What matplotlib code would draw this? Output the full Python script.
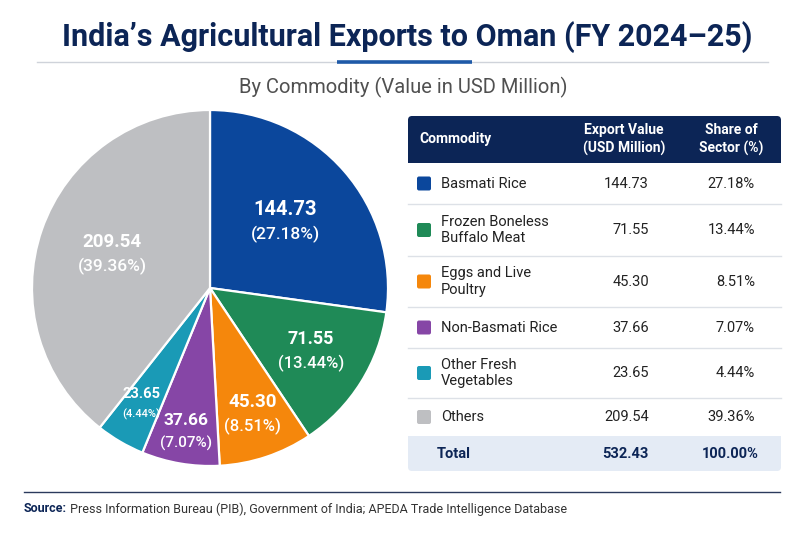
"""India's agricultural exports to Oman, FY 2024-25: pie + summary table."""

import matplotlib
matplotlib.use("Agg")
import matplotlib.pyplot as plt
import numpy as np
from matplotlib.patches import FancyBboxPatch, Rectangle

# --- data -------------------------------------------------------------------
commodities = ["Basmati Rice", "Frozen Boneless\nBuffalo Meat", "Eggs and Live\nPoultry",
               "Non-Basmati Rice", "Other Fresh\nVegetables", "Others"]
values = [144.73, 71.55, 45.30, 37.66, 23.65, 209.54]
shares = [27.18, 13.44, 8.51, 7.07, 4.44, 39.36]
total_value = 532.43
total_share = 100.00
colors = ["#0b479c", "#1f8a57", "#f5870c", "#8646a6", "#1a9ab6", "#bebfc2"]

# label placement per wedge (fraction of radius) and font sizes
label_r = [0.56, 0.67, 0.75, 0.82, 0.76, 0.58]
val_fs = [14.5, 13, 13.5, 12.5, 10.5, 13.5]
pct_fs = [12.5, 12, 12, 11, 8, 12.5]

NAVY = "#0c2556"
TXT = "#222222"
W, H = 800, 533

plt.rcParams["font.family"] = ["Roboto", "DejaVu Sans"]

fig = plt.figure(figsize=(W / 100, H / 100), dpi=100)
fig.patch.set_facecolor("white")

# overlay axes in pixel coordinates (y downwards)
ov = fig.add_axes([0, 0, 1, 1])
ov.set_xlim(0, W); ov.set_ylim(H, 0); ov.axis("off")

# --- header ------------------------------------------------------------------
ov.text(407, 37, "India\u2019s Agricultural Exports to Oman (FY 2024\u201325)",
        ha="center", va="center", fontsize=22, fontweight="bold", color=NAVY)
ov.plot([37, 768], [62, 62], color="#cfd3da", lw=1.0)
ov.plot([337, 472], [61.5, 61.5], color="#1f5aa8", lw=2.6, solid_capstyle="butt")
ov.text(403, 87, "By Commodity (Value in USD Million)", ha="center", va="center",
        fontsize=14.5, color="#505050")

# --- pie -----------------------------------------------------------------------
cx, cy, R = 210, 288, 178
pax = fig.add_axes([(cx - R) / W, (H - cy - R) / H, 2 * R / W, 2 * R / H])
wedges, _ = pax.pie(values, colors=colors, startangle=90, counterclock=False,
                    radius=1, wedgeprops=dict(edgecolor="white", linewidth=1.6))
pax.set_xlim(-1, 1); pax.set_ylim(-1, 1); pax.set_aspect("equal")

for w, v, s, r, vf, pf in zip(wedges, values, shares, label_r, val_fs, pct_fs):
    ang = np.deg2rad((w.theta1 + w.theta2) / 2)
    x, y = r * np.cos(ang), r * np.sin(ang)
    pax.text(x, y + 0.02, f"{v:.2f}", ha="center", va="bottom", color="white",
             fontsize=vf, fontweight="bold")
    pax.text(x, y - 0.02, f"({s:.2f}%)", ha="center", va="top", color="white",
             fontsize=pf, fontweight="medium")

# --- table ------------------------------------------------------------------
tx0, tx1 = 408, 781
hdr_top, hdr_bot = 116, 163
row_edges = [163, 204, 256, 307, 348, 398, 436]
tot_top, tot_bot = 436, 471
col_val_r, col_pct_r = 649, 755

ov.add_patch(FancyBboxPatch((tx0, hdr_top), tx1 - tx0, hdr_bot - hdr_top,
                            boxstyle="round,pad=0,rounding_size=4",
                            fc=NAVY, ec="none"))
ov.add_patch(Rectangle((tx0, hdr_top + 10), tx1 - tx0, hdr_bot - hdr_top - 10,
                       fc=NAVY, ec="none"))
hy = (hdr_top + hdr_bot) / 2
ov.text(419, hy, "Commodity", ha="left", va="center", color="white",
        fontsize=10, fontweight="bold")
ov.text(624, hy, "Export Value\n(USD Million)", ha="center", va="center",
        color="white", fontsize=10, fontweight="bold", linespacing=1.3)
ov.text(731, hy, "Share of\nSector (%)", ha="center", va="center",
        color="white", fontsize=10, fontweight="bold", linespacing=1.3)

for i, (name, v, s, c) in enumerate(zip(commodities, values, shares, colors)):
    top, bot = row_edges[i], row_edges[i + 1]
    ym = (top + bot) / 2
    ov.add_patch(FancyBboxPatch((417, ym - 7), 14, 14,
                                boxstyle="round,pad=0,rounding_size=2",
                                fc=c, ec="none"))
    ov.text(441, ym, name, ha="left", va="center", color=TXT, fontsize=10.5,
            linespacing=1.25)
    ov.text(col_val_r, ym, f"{v:.2f}", ha="right", va="center", color=TXT,
            fontsize=10.5)
    ov.text(col_pct_r, ym, f"{s:.2f}%", ha="right", va="center", color=TXT,
            fontsize=10.5)
    if i < len(commodities) - 1:
        ov.plot([tx0, tx1], [bot, bot], color="#dde1e7", lw=1.0)

ov.add_patch(FancyBboxPatch((tx0, tot_top), tx1 - tx0, tot_bot - tot_top,
                            boxstyle="round,pad=0,rounding_size=4",
                            fc="#e4ebf5", ec="none"))
ov.add_patch(Rectangle((tx0, tot_top), tx1 - tx0, 10, fc="#e4ebf5", ec="none"))
ty = (tot_top + tot_bot) / 2
ov.text(437, ty, "Total", ha="left", va="center", color=NAVY, fontsize=10.5,
        fontweight="bold")
ov.text(col_val_r, ty, f"{total_value:.2f}", ha="right", va="center", color=NAVY,
        fontsize=10.5, fontweight="bold")
ov.text(759, ty, f"{total_share:.2f}%", ha="right", va="center", color=NAVY,
        fontsize=10.5, fontweight="bold")

# --- footer -------------------------------------------------------------------
ov.plot([24, 780], [492, 492], color="#2b3a5c", lw=1.0)
src = ov.text(24, 509, "Source:", ha="left", va="center", color=NAVY,
              fontsize=9, fontweight="bold")
ov.annotate(" Press Information Bureau (PIB), Government of India; "
            "APEDA Trade Intelligence Database",
            xycoords=src, xy=(1, 0.5), ha="left", va="center",
            color="#333333", fontsize=9)

fig.savefig("out.png", dpi=100)
